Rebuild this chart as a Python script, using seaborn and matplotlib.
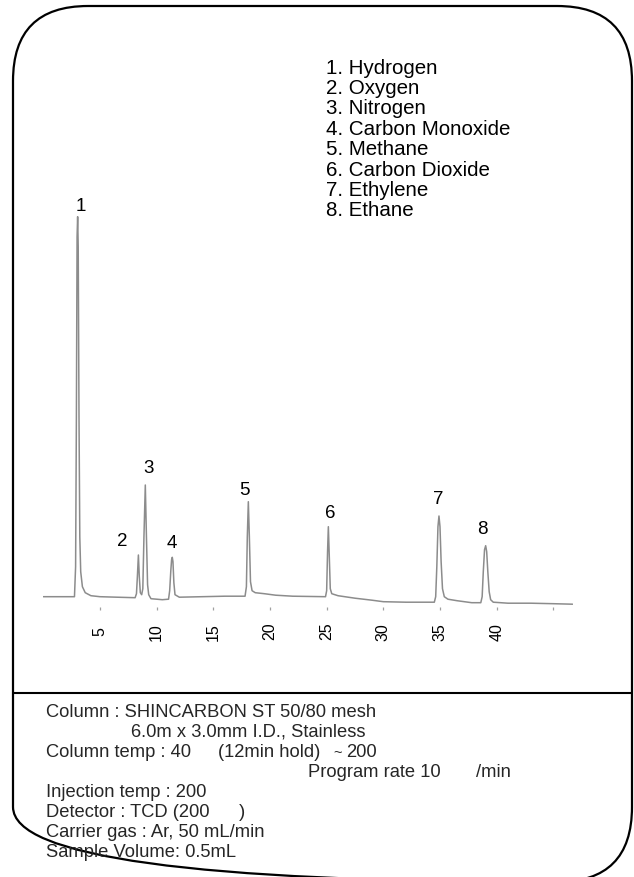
import numpy as np
import pandas as pd
import matplotlib
matplotlib.use("Agg")
import matplotlib.pyplot as plt
from matplotlib.patches import FancyBboxPatch
import seaborn as sns

# ---------------- data ----------------
time_min = [0, 2.75, 2.85, 2.92, 2.98, 3.03, 3.08, 3.15, 3.22, 3.3, 3.45, 3.7, 4.2, 5.0,
            6.5, 8.1, 8.22, 8.3, 8.39, 8.47, 8.56, 8.68,
            8.78, 8.88, 9.0, 9.1, 9.2, 9.3, 9.5, 10.5,
            11.05, 11.15, 11.25, 11.32, 11.38, 11.44, 11.52, 11.62, 12.0,
            14.0, 16.0, 17.8, 17.92, 18.0, 18.09, 18.18, 18.28, 18.42, 18.7, 19.5, 20.5, 22.0,
            24.9, 25.0, 25.08, 25.15, 25.22, 25.32, 25.45, 26.0, 27.5, 29.0, 30.0, 32.0,
            34.5, 34.62, 34.72, 34.82, 34.91, 35.0, 35.1, 35.22, 35.38, 35.7, 36.5, 37.8,
            38.6, 38.72, 38.82, 38.93, 39.03, 39.12, 39.22, 39.34, 39.47, 39.7, 41.0, 43.0, 45.0, 46.7]
signal = [0, 0, 30, 180, 360, 380, 350, 180, 60, 25, 10, 4, 1, 0,
          -0.5, -1, 3, 20, 41.7, 20, 4, 2,
          8, 60, 111.7, 60, 12, 2, -2, -3,
          -2.5, 6, 26, 37, 39.4, 35, 14, 2, -0.5,
          0, 0.5, 0.5, 10, 60, 95, 60, 15, 6, 4, 3, 1.5, 0.5,
          0, 6, 45, 70, 45, 8, 3, 1, -1.5, -3.5, -5, -5.5,
          -5.5, 0, 30, 70, 80.7, 70, 35, 8, 0, -2.5, -4, -6,
          -6, 0, 25, 47, 51, 45, 25, 5, -3, -5.5, -6.5, -6.5, -7, -7.5]

peak_ids = ["1", "2", "3", "4", "5", "6", "7", "8"]
peak_times = [3.03, 8.39, 9.0, 11.38, 18.09, 25.15, 34.91, 39.03]
peak_heights = [380, 41.7, 111.7, 39.4, 95, 70, 80.7, 51]

compounds = ["1. Hydrogen", "2. Oxygen", "3. Nitrogen", "4. Carbon Monoxide",
             "5. Methane", "6. Carbon Dioxide", "7. Ethylene", "8. Ethane"]

tick_values = [5, 10, 15, 20, 25, 30, 35, 40, 45]
tick_labels = ["5", "10", "15", "20", "25", "30", "35", "40", ""]

# ---------------- style ----------------
sns.set_theme(style="white")
plt.rcParams["font.family"] = ["Liberation Sans", "DejaVu Sans"]

W, H = 634, 877
fig = plt.figure(figsize=(W / 100, H / 100), dpi=100)
fig.patch.set_facecolor("white")

# background axes in pixel coordinates for frame + text
bg = fig.add_axes([0, 0, 1, 1], zorder=0)
bg.set_xlim(0, W)
bg.set_ylim(H, 0)
bg.axis("off")
bg.add_patch(FancyBboxPatch((13, 6), 619, 876,
                            boxstyle="round,pad=0,rounding_size=75",
                            facecolor="none", edgecolor="black", linewidth=1.6))
bg.plot([13, 632], [693, 693], color="black", linewidth=1.5, solid_capstyle="butt")

# compound list
for i, name in enumerate(compounds):
    bg.text(326.5, 73.5 + 20.4 * i, name, fontsize=14.8, ha="left", va="baseline", color="black")

# conditions
cond_fs = 13.2
x0 = 46.5
base = 716.7
step = 20.0
bg.text(x0, base + 0 * step, "Column : SHINCARBON ST 50/80 mesh", fontsize=cond_fs, va="baseline")
bg.text(131.0, base + 1 * step, "6.0m x 3.0mm I.D., Stainless", fontsize=cond_fs, va="baseline")
bg.text(x0, base + 2 * step, "Column temp : 40", fontsize=cond_fs, va="baseline")
bg.text(218.5, base + 2 * step, "(12min hold)", fontsize=cond_fs, va="baseline")
bg.text(333.0, base + 2 * step, "~", fontsize=10.5, va="baseline")
bg.text(346.0, base + 2 * step, "200", fontsize=cond_fs, va="baseline")
bg.text(307.5, base + 3 * step, "Program rate 10", fontsize=cond_fs, va="baseline")
bg.text(476.0, base + 3 * step, "/min", fontsize=cond_fs, va="baseline")
bg.text(x0, base + 4 * step, "Injection temp : 200", fontsize=cond_fs, va="baseline")
bg.text(x0, base + 5 * step, "Detector : TCD (200", fontsize=cond_fs, va="baseline")
bg.text(238.5, base + 5 * step, ")", fontsize=cond_fs, va="baseline")
bg.text(x0, base + 6 * step, "Carrier gas : Ar, 50 mL/min", fontsize=cond_fs, va="baseline")
bg.text(x0, base + 7 * step, "Sample Volume: 0.5mL", fontsize=cond_fs, va="baseline")

# chromatogram axes
ax = fig.add_axes([43.3 / W, (H - 610) / H, 529.3 / W, 413.3 / H], zorder=1)
ax.patch.set_alpha(0)
df = pd.DataFrame({"time": time_min, "signal": signal})
sns.lineplot(data=df, x="time", y="signal", ax=ax, color="#8c8c8c",
             linewidth=1.1, estimator=None, sort=False)
ax.set_xlim(0, 46.7)
ax.set_ylim(-13.3, 400)
for s in ax.spines.values():
    s.set_visible(False)
ax.set_yticks([])
ax.set_xlabel("")
ax.set_ylabel("")
ax.set_xticks(tick_values)
ax.set_xticklabels(tick_labels)
ax.tick_params(axis="x", direction="in", length=2.3, width=0.9, color="#a0a0a0",
               pad=15.6, labelsize=11.5, labelrotation=90, labelcolor="black", bottom=True)
for lbl in ax.get_xticklabels():
    lbl.set_va("center")
    lbl.set_ha("center")

label_offsets = [(2.0, 3.8), (-11.5, 6.5), (2.2, 8.4), (0, 6.4),
                 (-2.9, 4.8), (1.2, 6.0), (-0.5, 8.6), (-2.4, 8.4)]
for pid, t, h, off in zip(peak_ids, peak_times, peak_heights, label_offsets):
    ax.annotate(pid, xy=(t, h), xytext=off, textcoords="offset points",
                ha="center", va="baseline", fontsize=13.5, color="black",
                annotation_clip=False)

fig.savefig("out.png", dpi=100)
